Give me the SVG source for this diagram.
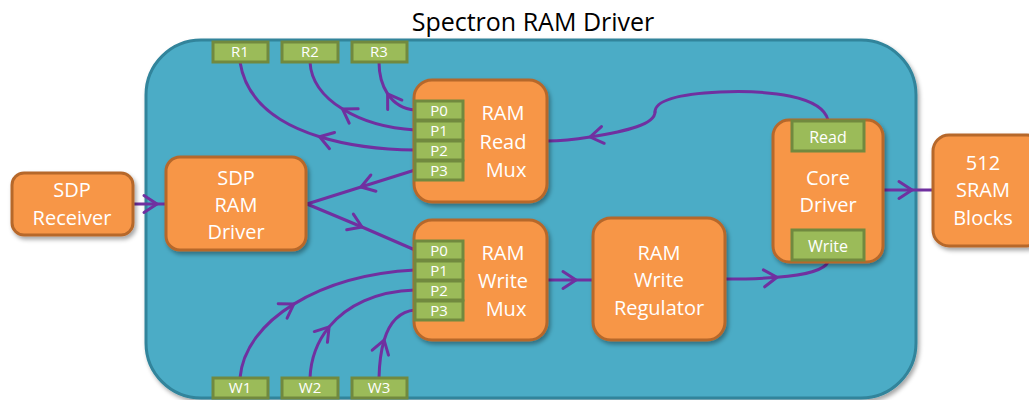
<svg xmlns="http://www.w3.org/2000/svg" width="1029" height="400" viewBox="0 0 1029 400">
<style>
.node{fill:#f79646;stroke:#b6672c;stroke-width:3;filter:url(#sh)}
.port{fill:#9bbb59;stroke:#71893f;stroke-width:3}
.lbl{font-family:"Open Sans","Noto Sans",sans-serif;font-size:20px;fill:#fff;text-anchor:middle}
.plbl{font-family:"Open Sans","Noto Sans",sans-serif;font-size:15px;fill:#fff;text-anchor:middle}
.plbl2{font-family:"Open Sans","Noto Sans",sans-serif;font-size:16px;fill:#fff;text-anchor:middle}
.edge{fill:none;stroke:#7030a0;stroke-width:3;stroke-linecap:round}
.arr{marker-mid:url(#chev)}
</style>
<defs>
<filter id="sh" x="-20%" y="-20%" width="140%" height="140%">
<feDropShadow dx="2" dy="3" stdDeviation="2" flood-color="#000" flood-opacity="0.35"/>
</filter>
<marker id="chev" markerUnits="userSpaceOnUse" viewBox="-16 -12 20 24" markerWidth="20" markerHeight="24" refX="0" refY="0" orient="auto" overflow="visible">
<path d="M-13,-8.5 L0,0 L-13,8.5" fill="none" stroke="#7030a0" stroke-width="3" stroke-linecap="round" stroke-linejoin="round"/>
</marker>
</defs>

<text x="533" y="31" font-family="'Open Sans','Noto Sans',sans-serif" font-size="25" fill="#000" text-anchor="middle">Spectron RAM Driver</text>

<g id="container">
<rect x="146" y="40" width="770" height="358" rx="55" ry="55" fill="#4bacc6" stroke="#31849b" stroke-width="3" filter="url(#sh)"/>
</g>

<g id="connectors">
<path class="edge arr" d="M133,204 L157,204 L166,204"/>
<path class="edge arr" d="M415,170 L361,187 L307,204"/>
<path class="edge arr" d="M307,204 L362,227 L415,250"/>
<path class="edge arr" d="M415,110 C402.5,109 393.5,102.75 387.6,93.9 C381.75,85 379,73.5 379,62"/>
<path class="edge arr" d="M415,130 C387.5,128.5 361.75,121 342.6,109.1 C323.5,97.25 311,81 310,62"/>
<path class="edge arr" d="M415,150 C381,149.6 347.8,145.5 319.6,136.7 C277.2,123.6 246,99.8 240,62"/>
<path class="edge arr" d="M240,378 C242.5,349 262.5,323.25 293.75,304.1 C325,285 367.5,272.5 415,270"/>
<path class="edge arr" d="M310,378 C310.8,358.8 317.4,341.2 329.1,326.9 C346.7,305.4 376,291.2 415,290"/>
<path class="edge arr" d="M379,378 C379.35,362.95 381.05,350.35 384.1,340.2 C389.75,321.47 400.05,311.3 415,310"/>
<path class="edge arr" d="M547,280 L576,280 L593,280"/>
<path class="edge arr" d="M725,279 C744.25,279 761.9,278.5 777,277.3 C805.2,275.1 824.1,270.45 828,262"/>
<path class="edge" d="M828,120 C822,96 770,90 720,92 C680,94 655,100 655,112"/>
<path class="edge arr" d="M655,112 C655,124 628,131 590,137 C575,139.5 560,141 547,141"/>
<path class="edge arr" d="M883,190 L912,190 L933,190"/>
</g>

<g id="sdp-receiver">
<rect class="node" x="12" y="173" width="121" height="62" rx="12"/>
<text class="lbl" x="72" y="197">SDP</text>
<text class="lbl" x="72" y="225">Receiver</text>
</g>

<g id="sdp-ram-driver">
<rect class="node" x="166" y="157" width="140" height="93" rx="14"/>
<text class="lbl" x="236" y="185">SDP</text>
<text class="lbl" x="236" y="212">RAM</text>
<text class="lbl" x="236" y="239">Driver</text>
</g>

<g id="ram-read-mux">
<rect class="node" x="414" y="80" width="133" height="122" rx="18"/>
<text class="lbl" x="503" y="120">RAM</text>
<text class="lbl" x="503" y="149">Read</text>
<text class="lbl" x="506" y="177">Mux</text>
<rect class="port" x="415" y="101" width="48" height="19"/>
<rect class="port" x="415" y="121" width="48" height="19"/>
<rect class="port" x="415" y="141" width="48" height="19"/>
<rect class="port" x="415" y="161" width="48" height="19"/>
<text class="plbl" x="439" y="116">P0</text>
<text class="plbl" x="439" y="136">P1</text>
<text class="plbl" x="439" y="156">P2</text>
<text class="plbl" x="439" y="176">P3</text>
</g>

<g id="ram-write-mux">
<rect class="node" x="414" y="220" width="133" height="120" rx="18"/>
<text class="lbl" x="503" y="260">RAM</text>
<text class="lbl" x="503" y="288">Write</text>
<text class="lbl" x="506" y="316">Mux</text>
<rect class="port" x="415" y="241" width="48" height="19"/>
<rect class="port" x="415" y="261" width="48" height="19"/>
<rect class="port" x="415" y="281" width="48" height="19"/>
<rect class="port" x="415" y="301" width="48" height="19"/>
<text class="plbl" x="439" y="256">P0</text>
<text class="plbl" x="439" y="276">P1</text>
<text class="plbl" x="439" y="296">P2</text>
<text class="plbl" x="439" y="316">P3</text>
</g>

<g id="ram-write-regulator">
<rect class="node" x="593" y="218" width="132" height="122" rx="18"/>
<text class="lbl" x="659" y="260">RAM</text>
<text class="lbl" x="659" y="287">Write</text>
<text class="lbl" x="659" y="315">Regulator</text>
</g>

<g id="core-driver">
<rect class="node" x="773" y="120" width="110" height="142" rx="16"/>
<rect class="port" x="792" y="121" width="72" height="30"/>
<rect class="port" x="792" y="230" width="72" height="30"/>
<text class="plbl2" x="828" y="143">Read</text>
<text class="plbl2" x="828" y="252">Write</text>
<text class="lbl" x="828" y="185">Core</text>
<text class="lbl" x="828" y="212">Driver</text>
</g>

<g id="sram-blocks">
<rect class="node" x="933" y="135" width="110" height="111" rx="16"/>
<text class="lbl" x="983" y="170">512</text>
<text class="lbl" x="983" y="197">SRAM</text>
<text class="lbl" x="983" y="225">Blocks</text>
</g>

<g id="r-ports">
<rect class="port" x="213" y="42" width="55" height="20"/>
<rect class="port" x="282" y="42" width="56" height="20"/>
<rect class="port" x="352" y="42" width="55" height="20"/>
<text class="plbl" x="240" y="57">R1</text>
<text class="plbl" x="310" y="57">R2</text>
<text class="plbl" x="379" y="57">R3</text>
</g>

<g id="w-ports">
<rect class="port" x="213" y="378" width="55" height="20"/>
<rect class="port" x="282" y="378" width="56" height="20"/>
<rect class="port" x="352" y="378" width="55" height="20"/>
<text class="plbl" x="240" y="393">W1</text>
<text class="plbl" x="310" y="393">W2</text>
<text class="plbl" x="379" y="393">W3</text>
</g>
</svg>
